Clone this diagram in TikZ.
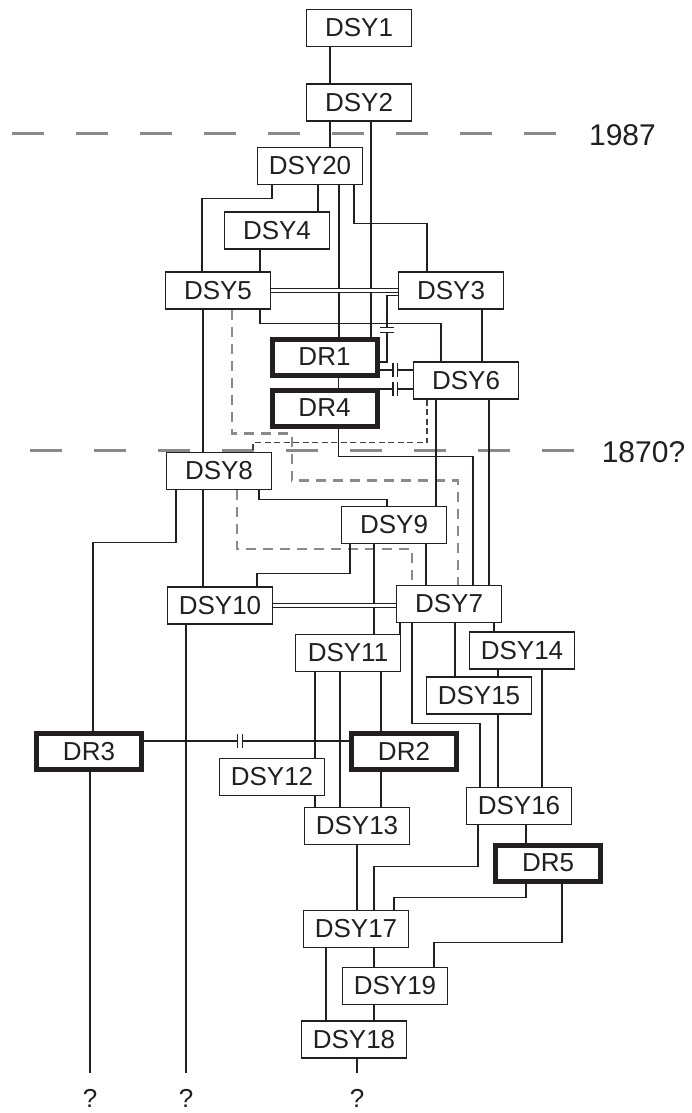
\documentclass[tikz,border=0pt]{standalone}
\usepackage{fontspec}
\setmainfont{Liberation Sans}
\definecolor{ink}{RGB}{35,31,32}
\definecolor{dashgray}{RGB}{138,138,138}

\begin{document}
\begin{tikzpicture}[x=1pt, y=-1pt, line width=1.2pt, color=ink,
    box/.style={draw=ink, fill=white, line width=1.2pt, inner sep=0pt, minimum width=105pt, minimum height=37pt, font=\fontsize{26}{30}\selectfont, text=ink},
    drbox/.style={box, line width=5pt, minimum width=105pt, minimum height=36pt},
    qmark/.style={inner sep=0pt, minimum height=48pt, font=\fontsize{26}{30}\selectfont, text=ink},
    yearlabel/.style={inner sep=0pt, font=\fontsize{30}{34}\selectfont, text=ink},
    era/.style={draw=dashgray, line width=3pt, dash pattern=on 32pt off 32pt},
    grayd/.style={draw=dashgray, line width=2.6pt, dash pattern=on 10pt off 7pt},
    dkd/.style={draw=ink!85, line width=1.3pt, dash pattern=on 6pt off 3.5pt},
    dbl/.style={double, double distance=3.5pt},
    gapmark/.pic={\fill[white] (-2.2,-7) rectangle (2.2,7);
      \draw[line width=1.2pt] (-2.2,-7) -- (-2.2,7) (2.2,-7) -- (2.2,7);}]
  \useasboundingbox (0,0) rectangle (692,1113);

  \draw[era] (12,134) -- (556,134);
  \draw[era] (30,450) -- (574,450);
  \node[yearlabel] (y1987) at (622.5,135) {1987};
  \node[yearlabel] (y1870) at (643.5,452) {1870?};

  \node[box] (DSY1) at (359,28) {DSY1};
  \node[box] (DSY2) at (359,102.5) {DSY2};
  \node[box] (DSY20) at (310,166) {DSY20};
  \node[box] (DSY4) at (277,230.5) {DSY4};
  \node[box] (DSY5) at (218,290.5) {DSY5};
  \node[box] (DSY3) at (451,290.5) {DSY3};
  \node[drbox] (DR1) at (324.5,357) {DR1};
  \node[box] (DSY6) at (466,380.5) {DSY6};
  \node[drbox] (DR4) at (324.5,408) {DR4};
  \node[box] (DSY8) at (219,471) {DSY8};
  \node[box] (DSY9) at (394,525) {DSY9};
  \node[box] (DSY10) at (220,605.5) {DSY10};
  \node[box] (DSY7) at (449,604) {DSY7};
  \node[box] (DSY11) at (348,653) {DSY11};
  \node[box] (DSY14) at (522,650.5) {DSY14};
  \node[box] (DSY15) at (479,695.5) {DSY15};
  \node[drbox] (DR3) at (89,751.5) {DR3};
  \node[drbox] (DR2) at (404,751.5) {DR2};
  \node[box] (DSY12) at (272,777) {DSY12};
  \node[box] (DSY16) at (519,806) {DSY16};
  \node[box] (DSY13) at (357,826) {DSY13};
  \node[drbox] (DR5) at (548,863) {DR5};
  \node[box] (DSY17) at (356,929) {DSY17};
  \node[box] (DSY19) at (395,986) {DSY19};
  \node[box] (DSY18) at (354,1039.5) {DSY18};
  \node[qmark] (q1) at (90,1098) {?};
  \node[qmark] (q2) at (186,1098) {?};
  \node[qmark] (q3) at (357,1098) {?};

  \draw ([xshift=-29]DSY1.south) -- ([xshift=-29]DSY2.north);
  \draw ([xshift=-29]DSY2.south) -- ([xshift=20]DSY20.north);
  \draw ([xshift=12]DSY2.south) -- ([xshift=46.5]DR1.north);
  \draw ([xshift=-38]DSY20.south) -- ++(0,13) -| ([xshift=-16]DSY5.north);
  \draw ([xshift=8]DSY20.south) -- ([xshift=41]DSY4.north);
  \draw ([xshift=29]DSY20.south) -- ([xshift=14.5]DR1.north);
  \draw ([xshift=44]DSY20.south) -- ++(0,38) -| ([xshift=-24]DSY3.north);
  \draw ([xshift=-17]DSY4.south) -- ([xshift=42]DSY5.north);
  \draw[dbl] (DSY5.east) -- (DSY3.west);
  \draw ([yshift=-5]DSY3.west) -- ++(-11,0) |- coordinate[pos=0.26] (gap1) ([yshift=-5]DR1.east);
  \draw ([xshift=-15]DSY5.south) -- ([xshift=-16]DSY8.north);
  \draw[grayd] ([xshift=14]DSY5.south) -- ++(0,124) -- ++(60,0) -- ++(0,47) -| ([xshift=9]DSY7.north);
  \draw ([xshift=42]DSY5.south) -- ++(0,14) -| ([xshift=-25]DSY6.north);
  \draw ([xshift=31]DSY3.south) -- ([xshift=16]DSY6.north);
  \draw ([yshift=-13]DR1.east) -- coordinate[pos=0.47] (gap2) ([yshift=-13]DR1.east -| DSY6.west);
  \draw ([xshift=14]DR1.south) -- ([xshift=14]DR4.north);
  \draw ([yshift=19]DR4.east) -- coordinate[pos=0.47] (gap3) ([yshift=19]DR4.east -| DSY6.west);
  \draw[dkd] ([xshift=-39]DSY6.south) -- ++(0,43) -| ([xshift=34]DSY8.north);
  \draw ([xshift=-30]DSY6.south) -- ([xshift=42]DSY9.north);
  \draw ([xshift=23]DSY6.south) -- ([xshift=40]DSY7.north);
  \draw ([xshift=14]DR4.south) -- ++(0,28) -| ([xshift=24]DSY7.north);
  \draw ([xshift=-43]DSY8.south) -- ++(0,52) -| ([xshift=4]DR3.north);
  \draw ([xshift=-16]DSY8.south) -- ([xshift=-17]DSY10.north);
  \draw[grayd] ([xshift=18]DSY8.south) -- ++(0,59) -| ([xshift=-37]DSY7.north);
  \draw ([xshift=40]DSY8.south) -- ++(0,9) -| ([xshift=-7]DSY9.north);
  \draw ([xshift=-44]DSY9.south) -- ++(0,29) -| ([xshift=37]DSY10.north);
  \draw ([xshift=-20]DSY9.south) -- ([xshift=26]DSY11.north);
  \draw ([xshift=32]DSY9.south) -- ([xshift=-23]DSY7.north);
  \draw[dbl] (DSY10.east) -- (DSY10.east -| DSY7.west);
  \draw ([xshift=-34]DSY10.south) -- (q2.north);
  \draw ([xshift=1]DR3.south) -- (q1.north);
  \draw ([xshift=-49]DSY7.south) -- ([xshift=52]DSY11.north);
  \draw ([xshift=-37]DSY7.south) -- ++(0,100) -| ([xshift=-39]DSY16.north);
  \draw ([xshift=6]DSY7.south) -- ([xshift=-24]DSY15.north);
  \draw ([xshift=45]DSY7.south) -- ([xshift=-28]DSY14.north);
  \draw ([xshift=-24]DSY14.south) -- ([xshift=19]DSY15.north);
  \draw ([xshift=20]DSY14.south) -- ([xshift=23]DSY16.north);
  \draw ([xshift=19]DSY15.south) -- ([xshift=-21]DSY16.north);
  \draw ([xshift=-33]DSY11.south) -- ([xshift=43]DSY12.north);
  \draw ([xshift=43]DSY12.south) -- ([xshift=-42]DSY13.north);
  \draw ([xshift=-8]DSY11.south) -- ([xshift=-17]DSY13.north);
  \draw ([xshift=33]DSY11.south) -- ([xshift=-23]DR2.north);
  \draw ([xshift=-23]DR2.south) -- ([xshift=24]DSY13.north);
  \draw ([yshift=10.5]DR3.east) -- coordinate[pos=0.468] (gap4) ([yshift=10.5]DR3.east -| DR2.west);
  \draw ([xshift=7]DSY16.south) -- ([xshift=-22]DR5.north);
  \draw ([xshift=-41]DSY16.south) -- ++(0,41) -| ([xshift=18]DSY17.north);
  \draw (DSY13.south) -- ([xshift=1]DSY17.north);
  \draw ([xshift=-22]DR5.south) -- ++(0,14) -| ([xshift=38]DSY17.north);
  \draw ([xshift=14]DR5.south) -- ++(0,59) -| ([xshift=39]DSY19.north);
  \draw ([xshift=18]DSY17.south) -- ([xshift=-21]DSY19.north);
  \draw ([xshift=-30]DSY17.south) -- ([xshift=-28]DSY18.north);
  \draw ([xshift=-21]DSY19.south) -- ([xshift=20]DSY18.north);
  \draw ([xshift=3]DSY18.south) -- (q3.north);

  \pic[rotate=90] at (gap1) {gapmark};
  \pic at (gap2) {gapmark};
  \pic at (gap3) {gapmark};
  \pic at (gap4) {gapmark};
\end{tikzpicture}
\end{document}
